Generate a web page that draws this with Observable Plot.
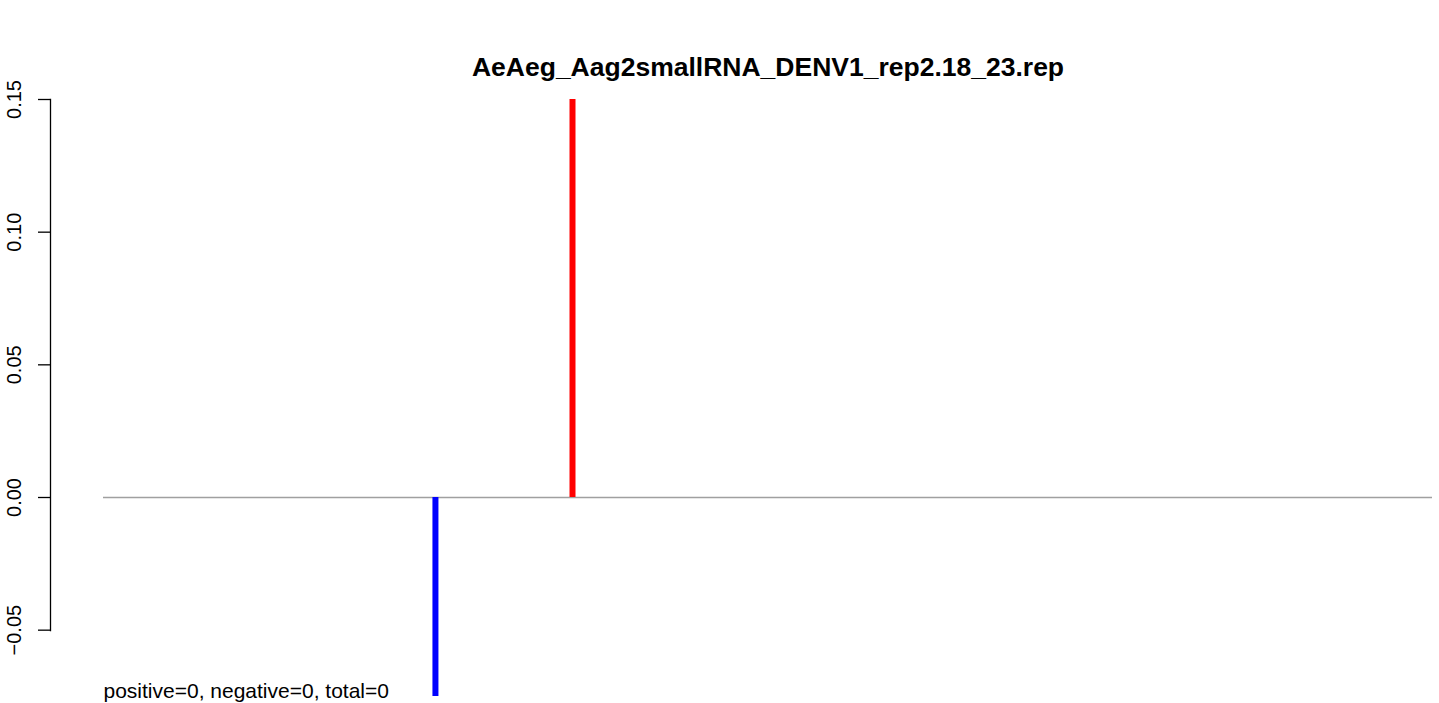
<!DOCTYPE html>
<html>
<head>
<meta charset="utf-8">
<script src="https://cdn.jsdelivr.net/npm/d3@7"></script>
<script src="https://cdn.jsdelivr.net/npm/@observablehq/plot@0.6"></script>
<style>
  html, body { margin: 0; padding: 0; background: #fff; }
  svg { display: block; }
</style>
</head>
<body>
<div id="chart"></div>
<script>
// Data
const title = "AeAeg_Aag2smallRNA_DENV1_rep2.18_23.rep";
const caption = "positive=0, negative=0, total=0";
const genomeStart = 1;
const genomeEnd = 10735;
const positions = [2682, 3789];
const values = [-0.075, 0.15];
const strands = ["negative", "positive"];
const yTicks = [-0.05, 0, 0.05, 0.10, 0.15];
const yTickLabels = ["\u22120.05", "0.00", "0.05", "0.10", "0.15"];

const bars = positions.map((p, i) => ({pos: p, value: values[i], strand: strands[i]}));
const ticks = yTicks.map((t, i) => ({t, label: yTickLabels[i]}));
const font = "'Liberation Sans', Arial, Helvetica, sans-serif";

const plot = Plot.plot({
  width: 1439,
  height: 703,
  marginLeft: 50,
  marginRight: 0,
  marginTop: 99,
  marginBottom: 73,
  style: {fontFamily: font, background: "#fff"},
  x: {domain: [genomeStart, genomeEnd], range: [103, 1432], axis: null},
  y: {domain: [-0.075, 0.15], range: [696, 99], axis: null},
  color: {domain: ["positive", "negative"], range: ["#ff0000", "#0000ff"]},
  marks: [
    Plot.frame({anchor: "left", stroke: "black", strokeWidth: 1.3}),
    Plot.axisY({ticks: yTicks, anchor: "left", tickSize: 12, tickFormat: () => "", label: null,
      stroke: "black", strokeWidth: 1.3}),
    Plot.text(ticks, {y: "t", text: "label", frameAnchor: "left", dx: -36, rotate: -90,
      textAnchor: "middle", lineAnchor: "middle", fontSize: 20, fill: "black"}),
    Plot.ruleY([0], {x1: genomeStart, x2: genomeEnd, stroke: "#a0a0a0", strokeWidth: 1.6}),
    Plot.ruleX(bars, {x: "pos", y1: 0, y2: "value", stroke: "strand", strokeWidth: 6}),
    Plot.text([title], {x: (genomeStart + genomeEnd) / 2, frameAnchor: "top", dy: -24,
      text: d => d, fontSize: 26.5, fontWeight: "bold", textAnchor: "middle", lineAnchor: "bottom", fill: "black"}),
    Plot.text([caption], {x: genomeStart, frameAnchor: "bottom", dy: 67, text: d => d,
      fontSize: 21, textAnchor: "start", lineAnchor: "bottom", fill: "black"})
  ]
});
document.getElementById("chart").appendChild(plot);
</script>
</body>
</html>
